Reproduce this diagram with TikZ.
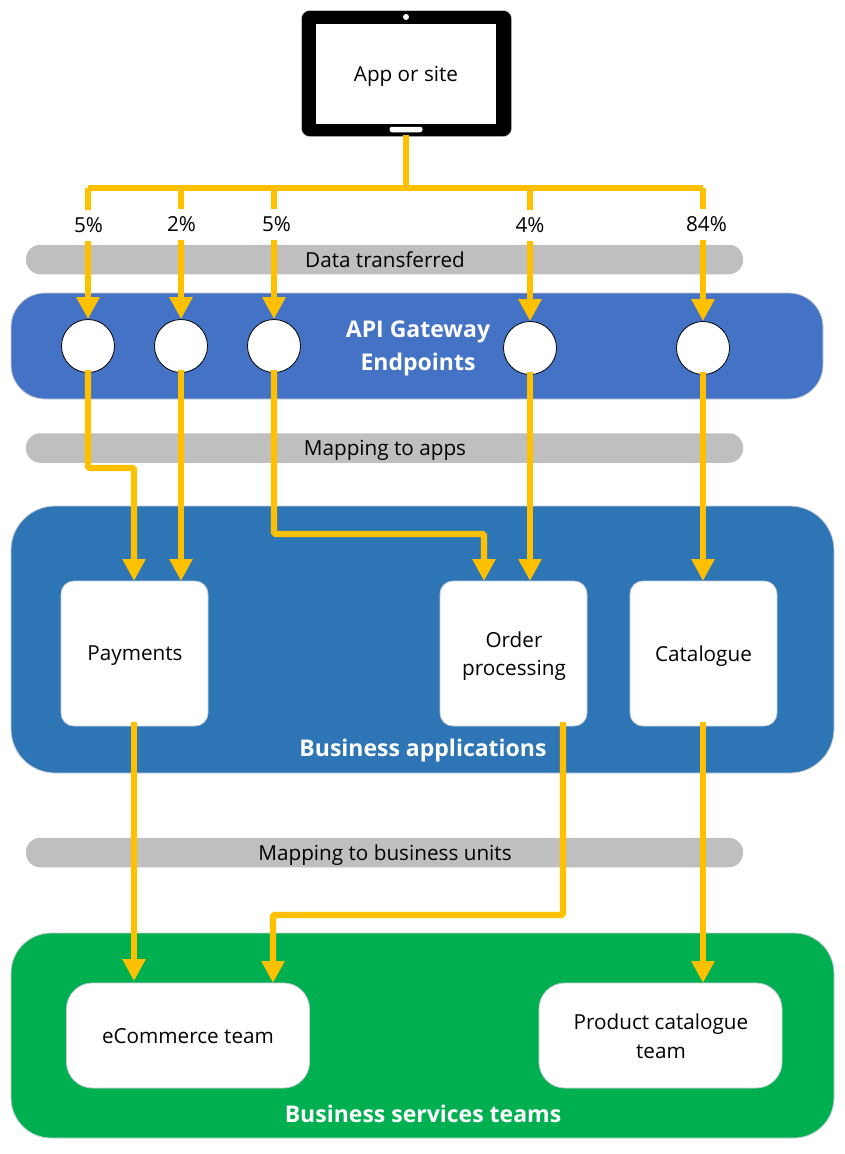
\documentclass[tikz,border=0pt]{standalone}
\usepackage{fontspec}
\setmainfont{Open Sans}
\usetikzlibrary{arrows.meta}
\definecolor{gold}{HTML}{FFC000}
\definecolor{barbg}{HTML}{BFBFBF}
\definecolor{gwblue}{HTML}{4472C4}
\definecolor{appblue}{HTML}{2E75B6}
\definecolor{teamgreen}{HTML}{00B050}
\definecolor{edgegrey}{HTML}{C8CDD6}
\tikzset{
  x=1pt,y=-1pt,
  lbl/.style={font=\fontsize{20.7}{28.5}\selectfont,text=black,align=center,inner sep=0pt},
  headlbl/.style={font=\fontsize{23}{33}\selectfont\bfseries,text=white,align=center,inner sep=0pt},
  panel/.style={draw=edgegrey,line width=0.8pt,minimum width=#1,inner sep=0pt},
  bar/.style={fill=barbg,rounded corners=14pt,minimum width=717pt,minimum height=29.5pt,inner sep=0pt},
  appbox/.style={fill=white,draw=edgegrey,line width=0.8pt,rounded corners=13pt,minimum width=147pt,minimum height=145pt,inner sep=0pt},
  teambox/.style={fill=white,draw=edgegrey,line width=0.8pt,rounded corners=26pt,minimum width=243pt,minimum height=105pt,inner sep=0pt},
  endpoint/.style={circle,fill=white,draw=black,line width=0.8pt,minimum size=53pt,inner sep=0pt},
  conn/.style={draw=gold,line width=6.3pt,rounded corners=1.5pt},
  arrowconn/.style={conn,-{Triangle[width=22pt,length=22pt]}},
  pct/.style={fill=white,inner sep=0pt,minimum height=31pt,minimum width=34pt,font=\fontsize{20.7}{24}\selectfont},
}
\begin{document}
\begin{tikzpicture}
\useasboundingbox (0,0) rectangle (845,1154);
% panels
\node[panel=812pt,fill=gwblue,rounded corners=34pt,minimum height=106pt] (gw) at (417,346) {};
\node[panel=823pt,fill=appblue,rounded corners=44pt,minimum height=267pt] (apps) at (422.5,639.5) {};
\node[panel=823pt,fill=teamgreen,rounded corners=40pt,minimum height=205pt] (teams) at (422.5,1035.5) {};
% grey bars
\node[bar] (bar1) at (384.5,259.5) {};
\node[bar] (bar2) at (384.5,448) {};
\node[bar] (bar3) at (384.5,852.5) {};
\node[lbl] (bar1t) at (385,260) {Data transferred};
\node[lbl] (bar2t) at (385,450.5) {Mapping to apps};
\node[lbl] (bar3t) at (385,855.5) {Mapping to business units};
% panel titles
\node[headlbl] (gwt) at (418,348.5) {API Gateway\\Endpoints};
\node[headlbl] (appst) at (423,751) {Business applications};
\node[headlbl] (teamst) at (423,1113.5) {Business services teams};
% tablet
\node[fill=black,draw=edgegrey,line width=0.5pt,rounded corners=8pt,minimum width=210pt,minimum height=126pt,inner sep=0pt] (tablet) at (406.5,73.5) {};
\node[fill=white,minimum width=180pt,minimum height=100pt,inner sep=0pt] (screen) at (406,73.5) {};
\node[lbl] (screent) at (406,76) {App or site};
\node[fill=white,circle,minimum size=6pt,inner sep=0pt] (camera) at (406,17) {};
\node[fill=white,rounded corners=2.5pt,minimum width=33pt,minimum height=5.5pt,inner sep=0pt] (homebtn) at (406,129.5) {};
% endpoints
\node[endpoint] (ep1) at (88,346) {};
\node[endpoint] (ep2) at (181,346) {};
\node[endpoint] (ep3) at (274,346) {};
\node[endpoint] (ep4) at (530,348) {};
\node[endpoint] (ep5) at (703,348) {};
% boxes
\node[appbox] (pay) at (134.5,653.5) {};
\node[lbl] (payt) at (135,656) {Payments};
\node[appbox] (ord) at (513.5,653.5) {};
\node[lbl] (ordt) at (514,656) {Order\\processing};
\node[appbox] (cat) at (703.5,653.5) {};
\node[lbl] (catt) at (703.5,656) {Catalogue};
\node[teambox] (ecom) at (188,1035.5) {};
\node[lbl] (ecomt) at (188,1036) {eCommerce team};
\node[teambox] (prod) at (660.5,1035.5) {};
\node[lbl] (prodt) at (661,1036) {Product catalogue\\team};
% connector anchors
\coordinate (hub) at (406,188);
\coordinate (tabOut) at (406,135);
\coordinate (railL) at (88,188);
\coordinate (rail2) at (181,188);
\coordinate (rail3) at (274,188);
\coordinate (rail4) at (530,188);
\coordinate (railR) at (703,188);
\coordinate (payA) at (134,581);
\coordinate (payB) at (181,581);
\coordinate (ordA) at (484,581);
\coordinate (ordB) at (530,581);
\coordinate (catA) at (703,581);
\coordinate (payOut) at (134,722);
\coordinate (ordOut) at (563,722);
\coordinate (catOut) at (703,722);
\coordinate (ecomA) at (134,981);
\coordinate (ecomB) at (273,983);
\coordinate (prodA) at (703,983);
\coordinate (ep1o) at (88,370);
\coordinate (ep2o) at (181,370);
\coordinate (ep3o) at (274,370);
\coordinate (ep4o) at (530,372);
\coordinate (ep5o) at (703,372);
% connectors
\draw[conn] (tabOut) -- (hub);
\draw[conn] (railL) -- (railR);
\draw[arrowconn] (railL) -- (ep1.north);
\draw[arrowconn] (rail2) -- (ep2.north);
\draw[arrowconn] (rail3) -- (ep3.north);
\draw[arrowconn] (rail4) -- (ep4.north);
\draw[arrowconn] (railR) -- (ep5.north);
\draw[arrowconn] (ep1o) -- (88,468) -- (134,468) -- (payA);
\draw[arrowconn] (ep2o) -- (payB);
\draw[arrowconn] (ep3o) -- (274,534) -- (484,534) -- (ordA);
\draw[arrowconn] (ep4o) -- (ordB);
\draw[arrowconn] (ep5o) -- (catA);
\draw[arrowconn] (payOut) -- (ecomA);
\draw[arrowconn] (ordOut) -- (563,915) -- (273,915) -- (ecomB);
\draw[arrowconn] (catOut) -- (prodA);
% percentage labels
\node[pct] (p1) at (88.5,225) {5\%};
\node[pct] (p2) at (181.5,224.5) {2\%};
\node[pct] (p3) at (276.5,224.5) {5\%};
\node[pct] (p4) at (530,225) {4\%};
\node[pct,minimum width=42pt] (p5) at (706.5,224.5) {84\%};
\end{tikzpicture}
\end{document}
